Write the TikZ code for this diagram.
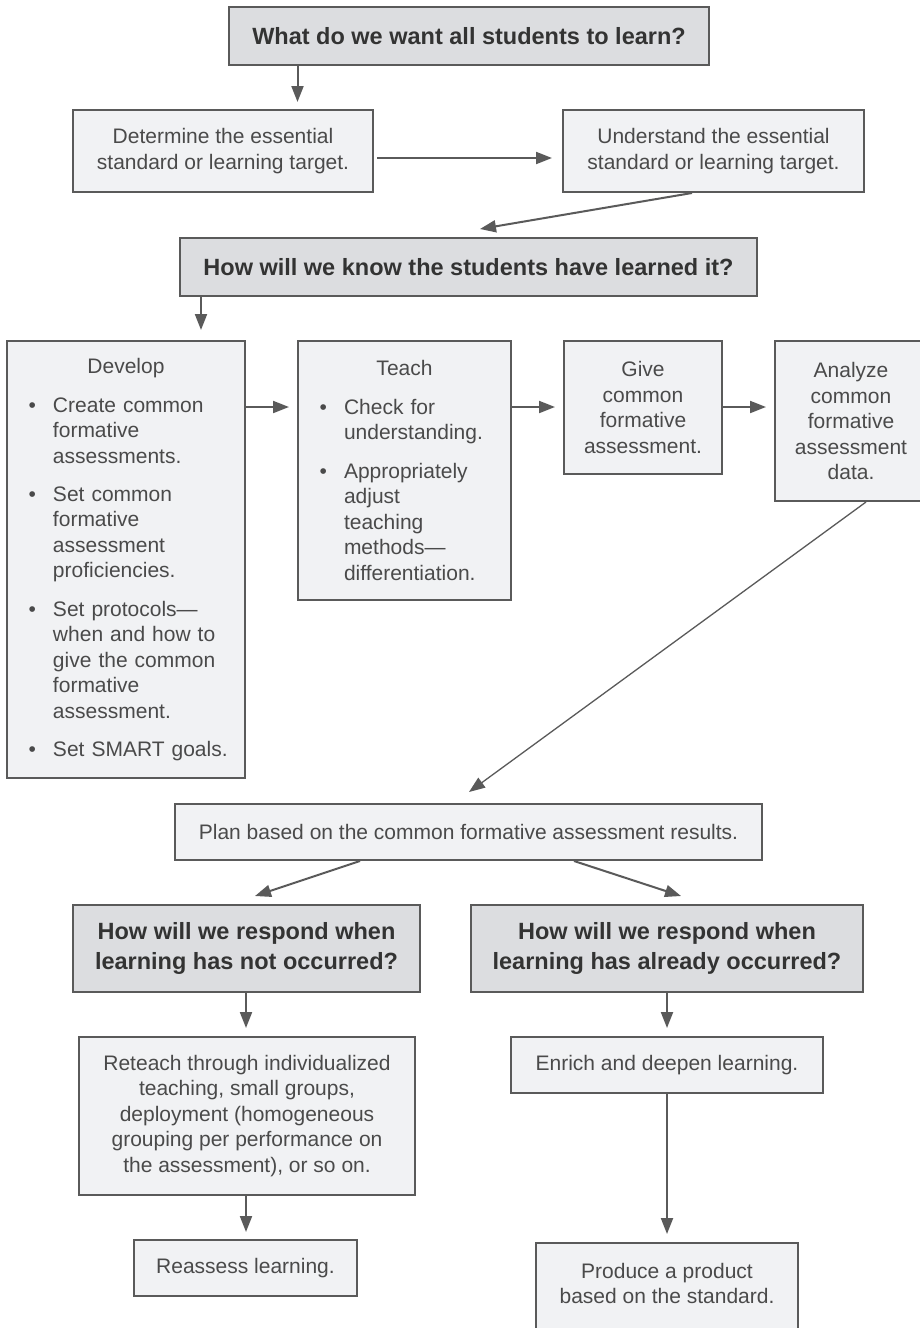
\documentclass[tikz,border=0pt]{standalone}
\usepackage{fontspec}
\setmainfont{Liberation Sans}
\usepackage{enumitem}
\usetikzlibrary{arrows.meta,calc}
\definecolor{bord}{HTML}{5A5A5A}
\definecolor{lite}{HTML}{F1F2F4}
\definecolor{darkf}{HTML}{DCDDE0}
\definecolor{arrc}{HTML}{5A5A5A}
\definecolor{txt}{HTML}{4A4A4A}
\definecolor{txtb}{HTML}{333333}
\newcommand\regf{\fontsize{21}{25.5}\selectfont}
\newcommand\headf{\fontsize{23.5}{29.5}\selectfont\bfseries}
\setlist[itemize]{label=\textbullet, leftmargin=34pt, labelsep=17pt, itemsep=12.7pt, topsep=0pt, parsep=0pt, partopsep=0pt}
\tikzset{
  bx/.style={draw=bord, line width=2pt, fill=lite, text=txt, font=\regf, align=center, inner sep=0pt},
  hd/.style={bx, fill=darkf, text=txtb, font=\headf},
  listbox/.style={bx, align=left, inner xsep=12pt, inner ysep=0pt},
  arr/.style={draw=arrc, line width=2pt, -{Triangle[length=16pt,width=12pt]}},
  thinarr/.style={arr, line width=1.3pt}
}
\begin{document}
\begin{tikzpicture}[x=1pt,y=-1pt]
\path[use as bounding box] (0,0) rectangle (920,1328);
\fill[white] (0,0) rectangle (920,1328);
\clip (0,0) rectangle (920,1328);

\node[hd, minimum width=480, minimum height=58] (q1) at (469,36) {What do we want all students to learn?};
\node[bx, minimum width=300, minimum height=82] (det) at (223,151) {Determine the essential\\standard or learning target.};
\node[bx, minimum width=301, minimum height=82] (und) at (713.5,151) {Understand the essential\\standard or learning target.};
\node[hd, minimum width=577, minimum height=58] (q2) at (468.5,267) {How will we know the students have learned it?};

\node[listbox, text width=214pt, minimum height=437] (dev) at (126,559.5) {%
\makebox[\linewidth][c]{Develop}\par\vspace{13pt}
\begin{itemize}
\item Create common\\formative\\assessments.
\item Set common\\formative\\assessment\\proficiencies.
\item Set protocols---\\when and how to\\give the common\\formative\\assessment.
\item Set SMART goals.
\end{itemize}};

\node[listbox, text width=189pt, minimum height=259] (teach) at (404.5,470.5) {%
\makebox[\linewidth][c]{Teach}\par\vspace{13pt}
\begin{itemize}
\item Check for\\understanding.
\item Appropriately\\adjust\\teaching\\methods---\\differentiation.
\end{itemize}};

\node[bx, minimum width=158, minimum height=133] (give) at (643,407.5) {Give\\common\\formative\\assessment.};
\node[bx, minimum width=152, minimum height=160] (ana) at (851,421) {Analyze\\common\\formative\\assessment\\data.};
\node[bx, minimum width=587, minimum height=56] (plan) at (468.5,832) {Plan based on the common formative assessment results.};
\node[hd, minimum width=347, minimum height=87] (q3) at (246.5,948.5) {How will we respond when\\learning has not occurred?};
\node[hd, minimum width=392, minimum height=87] (q4) at (667,948.5) {How will we respond when\\learning has already occurred?};
\node[bx, minimum width=336, minimum height=158] (ret) at (247,1116) {Reteach through individualized\\teaching, small groups,\\deployment (homogeneous\\grouping per performance on\\the assessment), or so on.};
\node[bx, minimum width=312, minimum height=56] (enr) at (667,1065) {Enrich and deepen learning.};
\node[bx, minimum width=223, minimum height=56] (rea) at (245.5,1268) {Reassess learning.};
\node[bx, minimum width=262, anchor=north, inner ysep=20pt, text depth=40pt] (pro) at (667,1242) {Produce a product\\based on the standard.};

\draw[arr, shorten >=7pt] (q1.south -| 297.5,0) -- (det.north -| 297.5,0);
\draw[arr, shorten <=3pt, shorten >=10pt] (det.east |- 0,158) -- (und.west |- 0,158);
\draw[arr] (und.south -| 692,0) -- ($(q2.north -| 480,0)+(0,-8)$);
\draw[arr, shorten >=10pt] (q2.south -| 201,0) -- (dev.north -| 201,0);
\draw[arr, shorten >=8pt] (dev.east |- 0,407) -- (teach.west |- 0,407);
\draw[arr, shorten >=8pt] (teach.east |- 0,407) -- (give.west |- 0,407);
\draw[arr, shorten >=8pt] (give.east |- 0,407) -- (ana.west |- 0,407);
\draw[thinarr] (ana.south -| 866,0) -- ($(plan.north -| 469,0)+(0,-11)$);
\draw[arr] (plan.south -| 360,0) -- ($(q3.north -| 255,0)+(0,-8)$);
\draw[arr] (plan.south -| 574,0) -- ($(q4.north -| 681,0)+(0,-8)$);
\draw[arr, shorten >=8pt] (q3.south -| 246,0) -- (ret.north -| 246,0);
\draw[arr, shorten >=8pt] (q4.south -| 667,0) -- (enr.north -| 667,0);
\draw[arr, shorten >=7pt] (ret.south -| 246,0) -- (rea.north -| 246,0);
\draw[arr, shorten >=8pt] (enr.south -| 667,0) -- (pro.north -| 667,0);
\end{tikzpicture}
\end{document}
